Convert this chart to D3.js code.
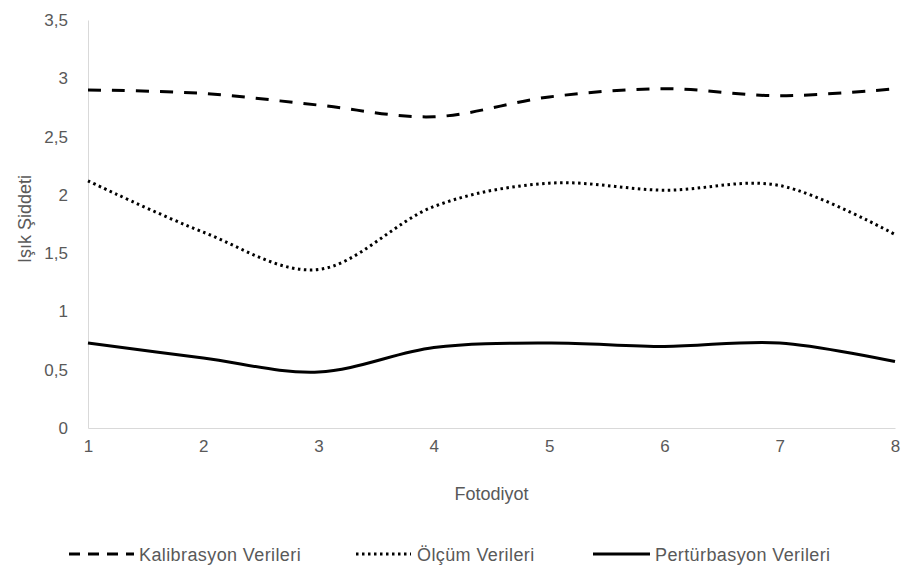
<!DOCTYPE html>
<html>
<head>
<meta charset="utf-8">
<script src="https://cdn.jsdelivr.net/npm/d3@7"></script>
<style>
  body { margin: 0; background: #fff; }
  text { font-family: 'Liberation Sans', sans-serif; fill: #595959; }
</style>
</head>
<body>
<div id="graf"></div>
<script>
// Veriler
fotodiyot = [1, 2, 3, 4, 5, 6, 7, 8]
kalibrasyon  = [2.90, 2.87, 2.77, 2.67, 2.84, 2.91, 2.85, 2.91]
olcum        = [2.12, 1.68, 1.36, 1.90, 2.10, 2.04, 2.08, 1.66]
perturbasyon = [0.73, 0.60, 0.48, 0.69, 0.73, 0.70, 0.73, 0.57]
yTicks = [0, 0.5, 1, 1.5, 2, 2.5, 3, 3.5]

series = [
  { nombre: 'Kalibrasyon Verileri',  valores: kalibrasyon,  dash: '13,11' },
  { nombre: 'Ölçüm Verileri',        valores: olcum,        dash: '2.5,3.5' },
  { nombre: 'Pertürbasyon Verileri', valores: perturbasyon, dash: null }
]

ancho_total = 910
alto_total  = 573
margins = { top: 20, left: 88, right: 15, bottom: 145 }
ancho = ancho_total - margins.left - margins.right
alto  = alto_total - margins.top - margins.bottom

svg = d3.select('#graf').append('svg')
        .attr('width', ancho_total)
        .attr('height', alto_total)

g = svg.append('g')
       .attr('transform', `translate(${margins.left}, ${margins.top})`)

x = d3.scalePoint().domain(fotodiyot).range([0, ancho])
y = d3.scaleLinear().domain([0, 3.5]).range([alto, 0])

fmt = d => String(d).replace('.', ',')

// Ejes
xAxis = g.append('g')
  .attr('transform', `translate(0,${alto})`)
  .call(d3.axisBottom(x).tickSize(0).tickPadding(12))
xAxis.select('.domain').attr('stroke', '#d9d9d9').attr('stroke-width', 1)
xAxis.selectAll('text').attr('font-size', '17px').attr('fill', '#595959')

yAxis = g.append('g')
  .call(d3.axisLeft(y).tickValues(yTicks).tickSize(0).tickPadding(20).tickFormat(fmt))
yAxis.select('.domain').attr('stroke', '#d9d9d9').attr('stroke-width', 1)
yAxis.selectAll('text').attr('font-size', '17px').attr('fill', '#595959')

// Títulos
svg.append('text')
  .attr('x', margins.left + ancho / 2)
  .attr('y', 500)
  .attr('text-anchor', 'middle')
  .attr('font-size', '18px')
  .text('Fotodiyot')

svg.append('text')
  .attr('transform', `translate(31, 219) rotate(-90)`)
  .attr('text-anchor', 'middle')
  .attr('font-size', '18px')
  .text('Işık Şiddeti')

// Líneas
linea = d3.line()
  .x((d, i) => x(fotodiyot[i]))
  .y(d => y(d))
  .curve(d3.curveCatmullRom.alpha(0))

series.forEach(s => {
  g.append('path')
    .attr('d', linea(s.valores))
    .attr('fill', 'none')
    .attr('stroke', '#000')
    .attr('stroke-width', 3)
    .attr('stroke-dasharray', s.dash)
})

// Leyenda
leyenda = [
  { x0: 69,  x1: 134, tx: 139 },
  { x0: 356, x1: 411, tx: 417 },
  { x0: 593, x1: 650, tx: 655 }
]
ly = 554
series.forEach((s, i) => {
  const l = leyenda[i]
  svg.append('line')
    .attr('x1', l.x0).attr('x2', l.x1)
    .attr('y1', ly).attr('y2', ly)
    .attr('stroke', '#000')
    .attr('stroke-width', 3)
    .attr('stroke-dasharray', i == 0 ? '11,8' : s.dash)
  svg.append('text')
    .attr('x', l.tx)
    .attr('y', 561)
    .attr('font-size', '18px')
    .attr('letter-spacing', '0.4px')
    .text(s.nombre)
})
</script>
</body>
</html>
